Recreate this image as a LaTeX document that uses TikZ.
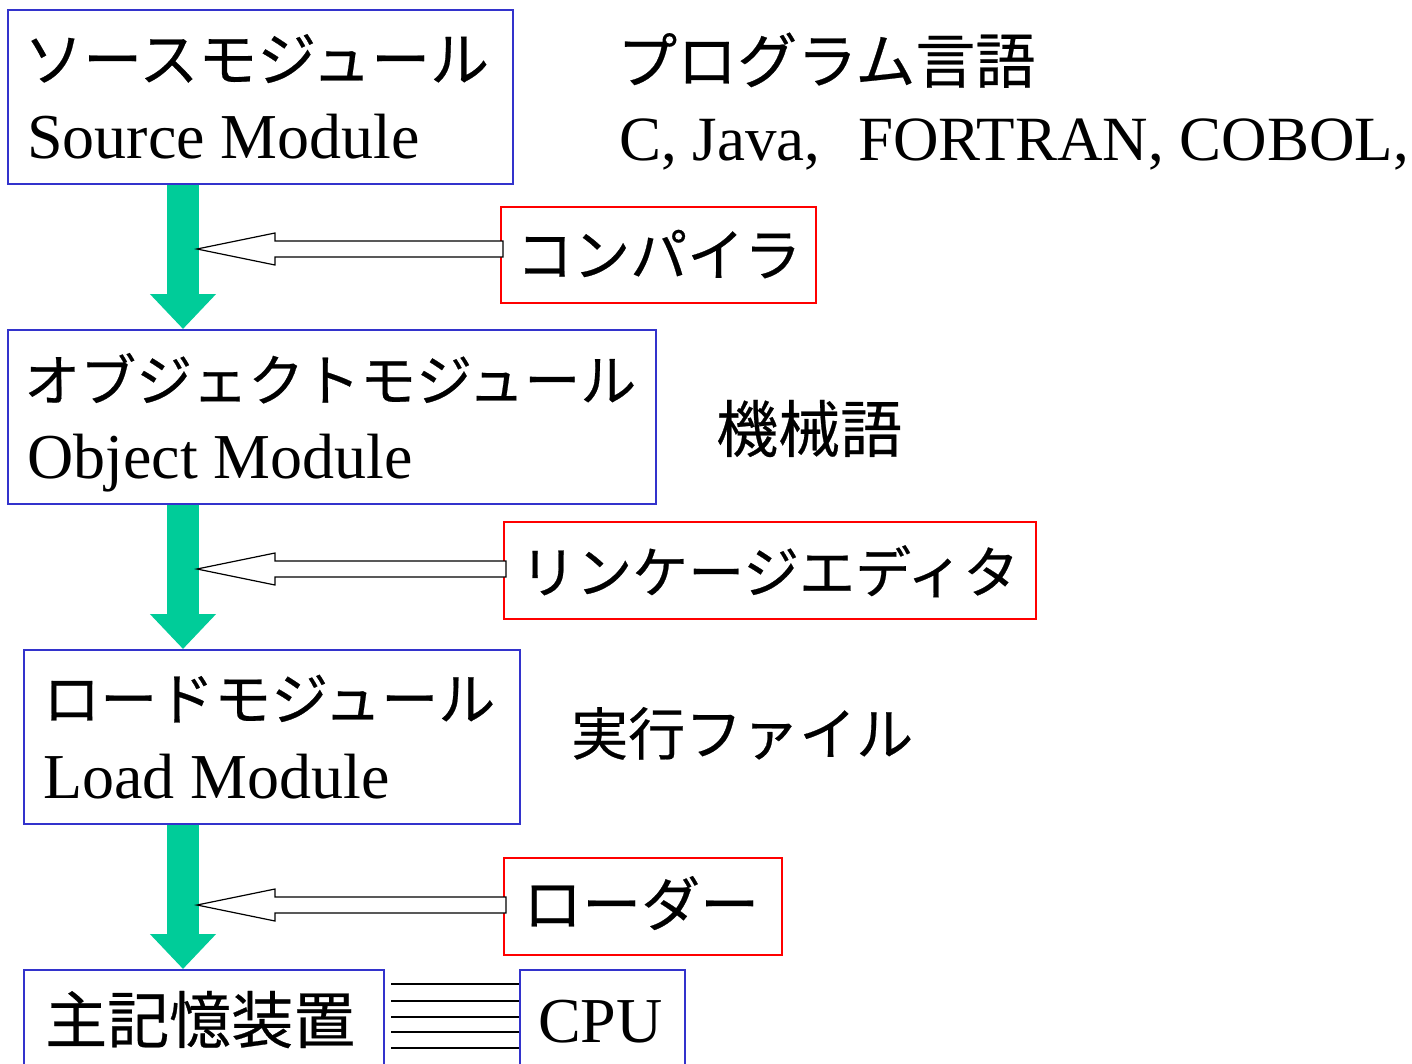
\documentclass[tikz,border=0pt]{standalone}
\usepackage{fontspec}
\setmainfont{Liberation Serif}
\newfontfamily\jp[FakeBold=0.4]{Noto Sans CJK JP}
\usetikzlibrary{arrows.meta,calc}
\definecolor{boxblue}{RGB}{51,51,204}
\definecolor{arrgreen}{RGB}{0,204,153}
\begin{document}
\begin{tikzpicture}[x=1pt,y=1pt,
 bluebox/.style={draw=boxblue,line width=1.5pt,anchor=north west,inner sep=0pt},
 redbox/.style={draw=red,line width=1.5pt,anchor=north west,inner sep=0pt},
 jptext/.style={anchor=base west,inner sep=0pt,font=\jp\fontsize{#1}{60}\selectfont},
 jptext/.default=57,
 entext/.style={anchor=base west,inner sep=0pt,font=\fontsize{64}{70}\selectfont},
 flow/.style={draw=arrgreen,line width=32pt,-{Triangle[length=35pt,width=64pt]}},
 hollow/.style={draw=black,line width=1.2pt,fill=white,line join=miter},
 bus/.style={draw=black,line width=1.3pt}]
\clip (0,0) rectangle (1412,-1063);
\fill[white] (0,0) rectangle (1412,-1063);
% boxes
\node[bluebox,minimum width=505pt,minimum height=174pt] (src) at (7,-9) {};
\node[bluebox,minimum width=648pt,minimum height=174pt] (obj) at (7,-329) {};
\node[bluebox,minimum width=496pt,minimum height=174pt] (load) at (23,-649) {};
\node[bluebox,minimum width=360pt,minimum height=140pt] (mem) at (23,-969) {};
\node[bluebox,minimum width=165pt,minimum height=140pt] (cpu) at (519,-969) {};
\node[redbox,minimum width=315pt,minimum height=96pt] (comp) at (500,-206) {};
\node[redbox,minimum width=532pt,minimum height=97pt] (link) at (503,-521) {};
\node[redbox,minimum width=278pt,minimum height=97pt] (loader) at (503,-857) {};
% texts
\node[jptext=59] (t-src) at (24,-81) {ソースモジュール};
\node[entext] (e-src) at (27,-158) {Source Module};
\node[jptext=60] (t-lang) at (617,-83) {プログラム言語};
\node[entext,font=\fontsize{63}{70}\selectfont] (e-lang) at (619,-160) {C, Java,\hspace{0.6em}FORTRAN, COBOL,};
\node[jptext=57] (t-comp) at (516,-276) {コンパイラ};
\node[jptext=56] (t-obj) at (24,-401) {オブジェクトモジュール};
\node[entext] (e-obj) at (27,-478) {Object Module};
\node[jptext=62] (t-mach) at (716,-452) {機械語};
\node[jptext=56] (t-link) at (520,-593) {リンケージエディタ};
\node[jptext=57] (t-load) at (43,-720) {ロードモジュール};
\node[entext] (e-load) at (43,-798) {Load Module};
\node[jptext=57] (t-exe) at (571,-755) {実行ファイル};
\node[jptext=59] (t-loader) at (523,-926) {ローダー};
\node[jptext=62] (t-mem) at (45,-1043) {主記憶装置};
\node[entext] (e-cpu) at (538,-1042) {CPU};
% green flow arrows
\coordinate (gx) at (183,0);
\draw[flow] (src.south -| gx) -- (obj.north -| gx);
\draw[flow] (obj.south -| gx) -- (load.north -| gx);
\draw[flow] (load.south -| gx) -- (mem.north -| gx);
% hollow arrows
\coordinate (h1) at (197,-249);
\coordinate (h2) at (197,-569);
\coordinate (h3) at (197,-905);
\foreach \h/\b in {h1/comp,h2/link,h3/loader}{
  \draw[hollow] let \p1=(\h), \p2=(\b.west) in
    (\x1,\y1) -- (\x1+78pt,\y1+16pt) -- (\x1+78pt,\y1+8pt) -- (\x2+3pt,\y1+8pt)
    -- (\x2+3pt,\y1-8pt) -- (\x1+78pt,\y1-8pt) -- (\x1+78pt,\y1-16pt) -- cycle;
}
% bus lines
\foreach \y in {984,1001,1017,1032,1048}{
  \draw[bus] (391,-\y) -- (cpu.west |- 0,-\y);
}
\end{tikzpicture}
\end{document}
